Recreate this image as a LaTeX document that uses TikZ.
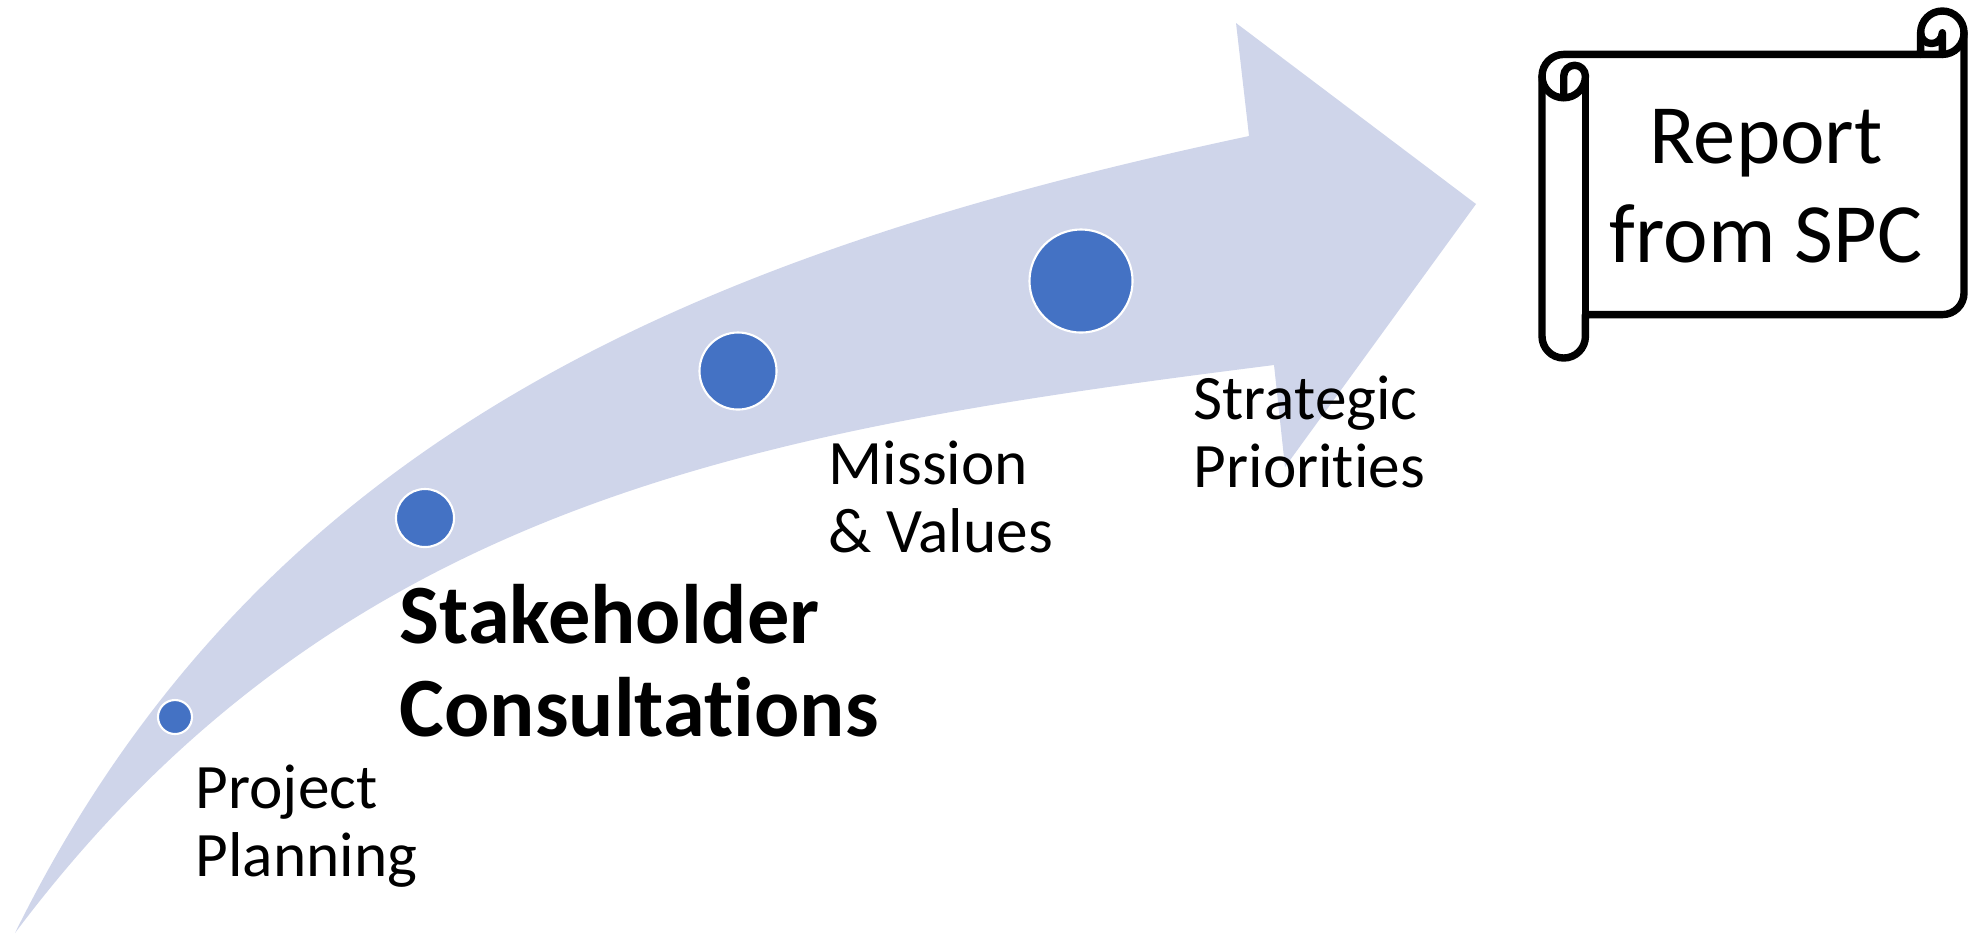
\documentclass[tikz,border=0pt]{standalone}
\usepackage{fontspec}
\setmainfont{Carlito}[Ligatures=NoCommon]
\usepackage{tikz}
\usetikzlibrary{positioning}
\definecolor{stepBlue}{HTML}{4472C4}
\definecolor{arrowTint}{HTML}{CFD5EA}

\begin{document}
\begin{tikzpicture}[x=0.01cm, y=-0.01cm,
  dot/.style={circle,draw=white,line width=0.6pt,fill=stepBlue,inner sep=0pt},
  lbl/.style={anchor=base west,align=left,inner sep=0pt,font=\fontsize{18}{19.3}\selectfont},
  scrollline/.style={draw=black,line width=2.1pt,line join=round,line cap=round}]
\useasboundingbox (0,0) rectangle (1977,935);
% --- curved arrow ---
  \fill[arrowTint] (15,933) .. controls (258,440) and (690,255) .. (1249,136)
    -- (1236,23) -- (1476,204) -- (1285,467) -- (1274,365)
    .. controls (760,430) and (340,500) .. (15,933) -- cycle;
% --- milestones ---
  \node[dot,minimum size=0.34cm] (d1) at (175,717) {};
  \node[dot,minimum size=0.58cm] (d2) at (425,518) {};
  \node[dot,minimum size=0.77cm] (d3) at (738,371) {};
  \node[dot,minimum size=1.03cm] (d4) at (1081,281) {};
  \node[lbl] (plan) at (195,876) {Project\\Planning};
  \node[lbl,font=\fontsize{24}{26.2}\selectfont\bfseries] (consult) at (399,736) {Stakeholder\\Consultations};
  \node[lbl] (mission) at (828,552) {Mission\\\& Values};
  \node[lbl] (priorities) at (1193,487) {Strategic\\Priorities};
% --- scroll ---
\begin{scope}[shift={(1542,11)}]
  \draw[scrollline,fill=white] (0,65.1) arc[start angle=180,delta angle=90,radius=21.7]
    -- (378.6,43.4) -- (378.6,21.7) arc[start angle=180,delta angle=180,radius=21.7]
    -- (422,281.9) arc[start angle=0,delta angle=90,radius=21.7]
    -- (43.4,303.6) -- (43.4,325.3) arc[start angle=0,delta angle=180,radius=21.7] -- cycle;
  \draw[scrollline] (378.6,43.4) -- (400.3,43.4) arc[start angle=90,delta angle=-90,radius=21.7];
  \draw[scrollline] (400.3,43.4) -- (400.3,21.7) arc[start angle=0,delta angle=180,radius=10.85];
  \draw[scrollline] (21.7,86.8) -- (21.7,65.1) arc[start angle=180,delta angle=180,radius=10.85]
    arc[start angle=0,delta angle=180,radius=21.7];
  \draw[scrollline] (43.4,65.1) -- (43.4,303.6);
\end{scope}
  \node[anchor=base,align=center,inner sep=0pt,font=\fontsize{24}{27.9}\selectfont] (report) at (1766,262) {Report\\from SPC};
\end{tikzpicture}
\end{document}
